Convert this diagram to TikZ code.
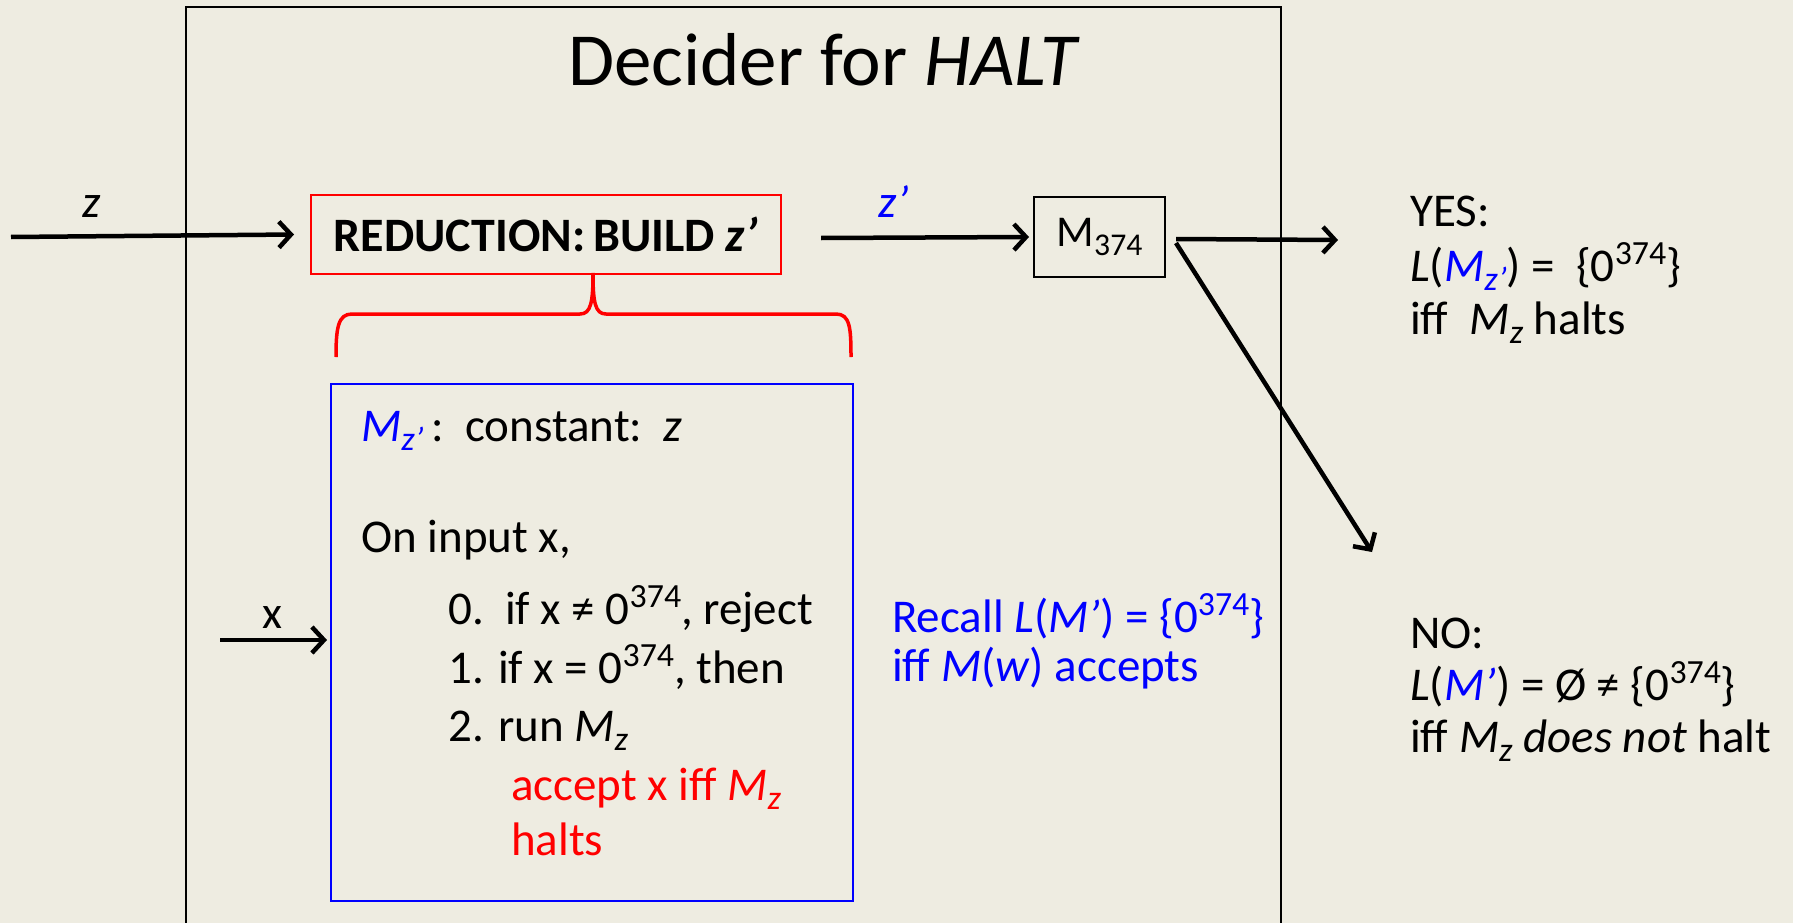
\documentclass[tikz,border=0pt]{standalone}
\usepackage{fontspec}
\setmainfont{Carlito}
\usetikzlibrary{arrows.meta}
\definecolor{bg}{RGB}{238,236,225}
\definecolor{myred}{RGB}{255,0,0}
\definecolor{myblue}{RGB}{0,0,255}
\tikzset{
  txt/.style={inner sep=0pt, anchor=base west, font=\fontsize{47}{56}\selectfont},
  ctxt/.style={inner sep=0pt, anchor=base, font=\fontsize{46}{55}\selectfont},
  arr/.style={line width=4.5pt, -{Straight Barb[length=12pt,width=26pt,line width=4.5pt]}},
  boxline/.style={line width=2pt}
}
\newcommand{\sub}[1]{\raisebox{-0.2em}{\scalebox{0.72}{#1}}}
\newcommand{\sups}[1]{\raisebox{0.36em}{\scalebox{0.72}{#1}}}
\begin{document}
\begin{tikzpicture}[x=1pt,y=-1pt]
\useasboundingbox (0,0) rectangle (1793,923);
\fill[bg] (0,0) rectangle (1793,923);
% outer box
\draw[line width=2.5pt] (186,930) -- (186,7) -- (1281,7) -- (1281,930);
\node[inner sep=0pt, anchor=base west, font=\fontsize{75}{90}\selectfont] (title) at (568,86) {Decider for \textit{HALT}};
% input z
\coordinate (zin) at (11,237);
\node[inner sep=0pt, minimum width=470pt, minimum height=79pt, draw=myred, line width=2pt, anchor=north west, font=\fontsize{48}{57}\selectfont\bfseries] (red) at (310,194) {REDUCTION:\,BUILD \textit{z’}};
\draw[arr] (zin) -- ([xshift=-16pt]red.west);
\node[ctxt] (zl) at (92,217) {\textit{z}};
% M374
\node[inner sep=0pt, minimum width=131pt, minimum height=80pt, draw, line width=2pt, anchor=north west, font=\fontsize{44}{52}\selectfont] (m) at (1033,196) {M\sub{374}};
\coordinate (zp1) at (821,238);
\draw[arr] (zp1) -- ([xshift=-4pt]m.west);
\node[ctxt, text=myblue] (zpl) at (894,217) {\textit{z’}};
\coordinate (yesend) at (1338,240);
\coordinate (noend) at (1372,552);
\draw[arr] ([xshift=10pt,yshift=-2pt]m.east) -- (yesend);
\draw[arr] ([xshift=10pt,yshift=-6pt]m.east) -- (noend);
% YES text
\node[txt] (y1) at (1410,226) {YES:};
\node[txt] (y2) at (1410,281) {\textit{L}(\textcolor{myblue}{\textit{M}\sub{\textit{z’}}}) = \ \{0\sups{374}\}};
\node[txt] (y3) at (1410,334) {iff \ \textit{M}\sub{\textit{z}} halts};
% NO text
\node[txt] (n1) at (1410,648) {NO:};
\node[txt] (n2) at (1410,700) {\textit{L}(\textcolor{myblue}{\textit{M’}}) = Ø ≠ \{0\sups{374}\}};
\node[txt] (n3) at (1410,752) {iff \textit{M}\sub{\textit{z}} \textit{does not} halt};
% brace
\draw[myred, line width=3.5pt] (336,357) .. controls (336,328) and (338,314) .. (352,314) -- (580,314) .. controls (591,314) and (593,302) .. (593,273) .. controls (593,302) and (595,314) .. (606,314) -- (836,314) .. controls (850,314) and (851,328) .. (851,357);
% blue box
\node[inner sep=0pt, minimum width=522pt, minimum height=517pt, draw=myblue, line width=2pt, anchor=north west] (blue) at (330,383) {};
\node[txt] (b1) at (361,441) {\textcolor{myblue}{\textit{M}\sub{\textit{z’}}}\,:\ \ constant:\ \ \textit{z}};
\node[txt] (b2) at (361,552) {On input x,};
\node[txt] (b3) at (448,624) {0.\ \ if x ≠ 0\sups{374}, reject};
\node[txt] (b4) at (448,683) {1. if x = 0\sups{374}, then};
\node[txt] (b5) at (448,741) {2. run \textit{M}\sub{\textit{z}}};
\node[txt, text=myred] (b6) at (511,800) {accept x iff \textit{M}\sub{\textit{z}}};
\node[txt, text=myred] (b7) at (511,855) {halts};
% x input
\coordinate (xin) at (220,640);
\draw[arr] (xin) -- ([xshift=-3pt]blue.west |- xin);
\node[ctxt] (xl) at (272,628) {x};
% recall
\node[txt, text=myblue] (r1) at (892,632) {Recall \textit{L}(\textit{M’}) = \{0\sups{374}\}};
\node[txt, text=myblue] (r2) at (892,681) {iff \textit{M}(\textit{w}) accepts};
\end{tikzpicture}
\end{document}
